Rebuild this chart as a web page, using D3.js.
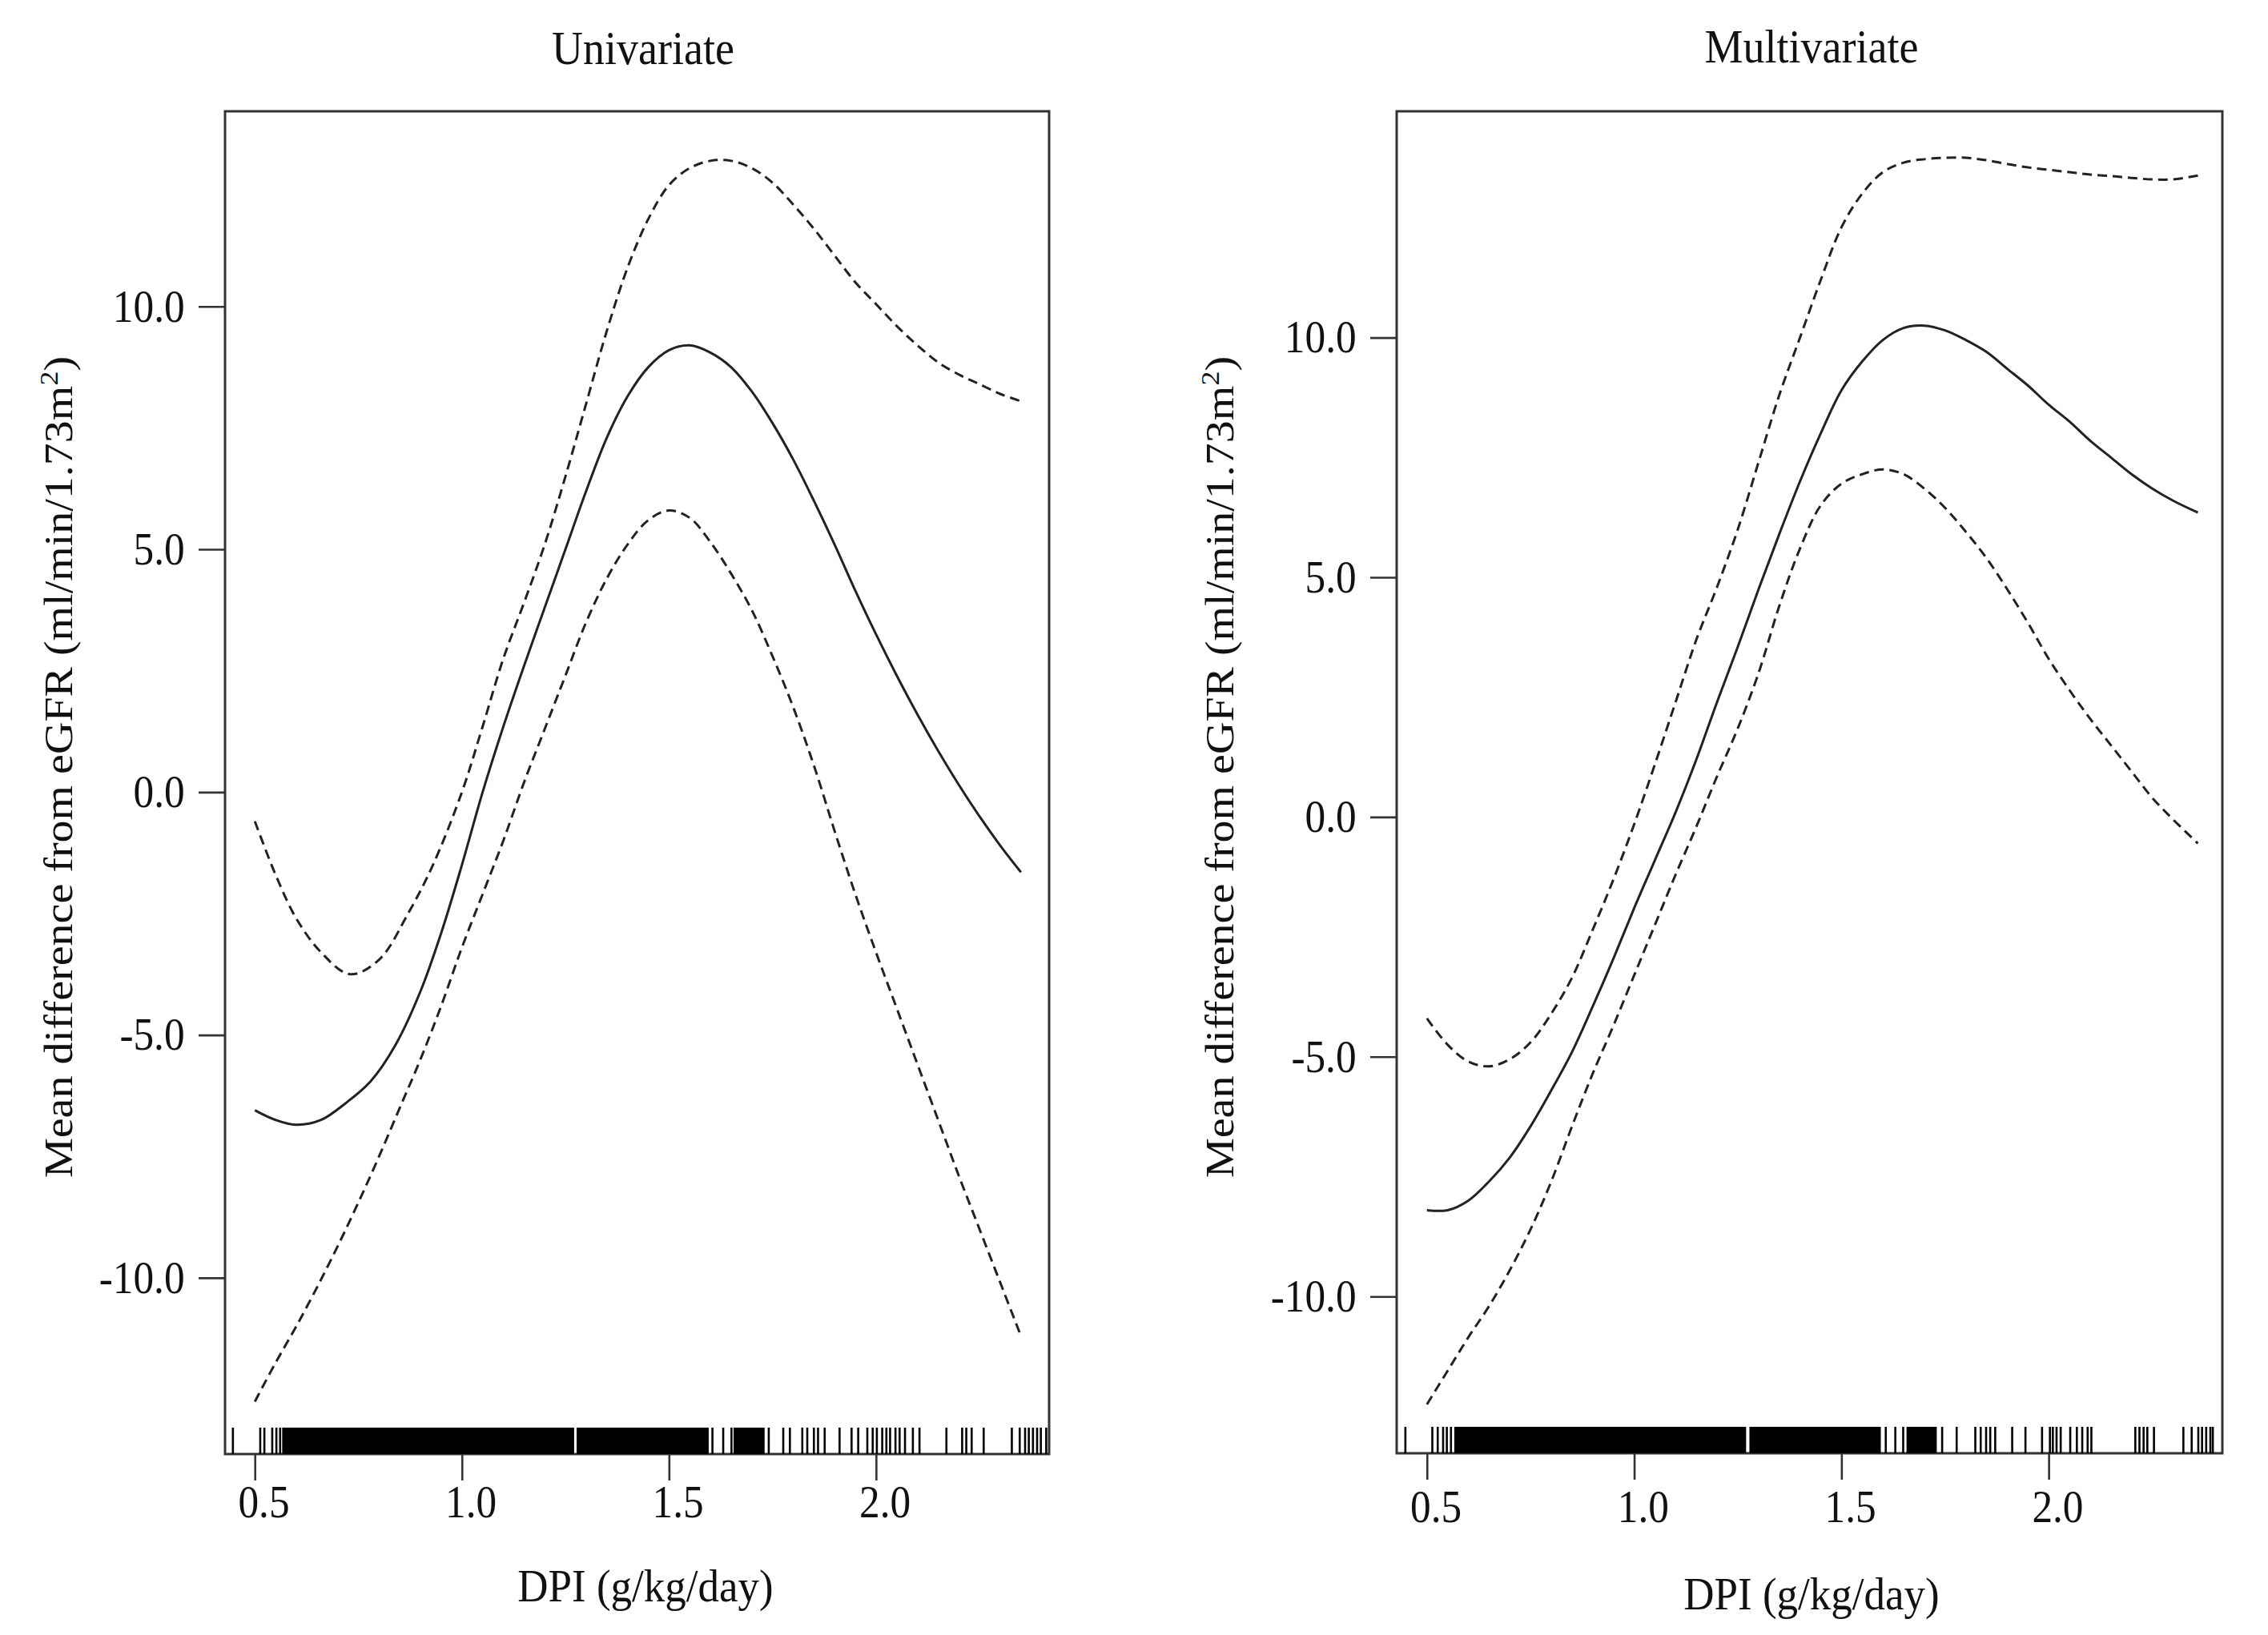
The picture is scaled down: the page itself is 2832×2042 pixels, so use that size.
<!DOCTYPE html>
<html>
<head>
<meta charset="utf-8">
<script src="https://cdn.jsdelivr.net/npm/d3@7"></script>
<style>
  body { margin: 0; background: #fff; }
  text { font-family: "Liberation Serif", "Times New Roman", serif; fill: #111; }
  .frame { fill: none; stroke: #333; stroke-width: 3; }
  .axis path { display: none; }
  .axis line { stroke: #333; stroke-width: 2.6; }
  .fit { fill: none; stroke: #222; stroke-width: 3; }
  .ci { fill: none; stroke: #222; stroke-width: 3; stroke-dasharray: 12 7; }
  .rug { stroke: #000; stroke-width: 2.6; }
  .rug-dense { fill: #000; }
</style>
</head>
<body>
<div id="chart"></div>
<script>
// ---- data ----
const xTicks = [0.5, 1.0, 1.5, 2.0];
const yTicks = [-10, -5, 0, 5, 10];
const panelTitles = ["Univariate", "Multivariate"];
const xLabel = "DPI (g/kg/day)";

// univariate spline fit + 95% CI  [DPI, mean difference]
const uniFit = [[0.50,-6.55],[0.55,-6.75],[0.60,-6.85],[0.66,-6.75],[0.72,-6.4],[0.78,-5.95],[0.84,-5.2],[0.90,-4.1],[0.95,-2.9],[1.00,-1.5],[1.05,0.0],[1.10,1.35],[1.15,2.6],[1.20,3.8],[1.25,5.0],[1.30,6.2],[1.35,7.3],[1.40,8.15],[1.45,8.75],[1.50,9.1],[1.55,9.2],[1.60,9.05],[1.65,8.75],[1.70,8.25],[1.75,7.6],[1.80,6.85],[1.85,6.0],[1.90,5.1],[1.95,4.15],[2.00,3.25],[2.05,2.4],[2.10,1.6],[2.15,0.85],[2.20,0.15],[2.25,-0.5],[2.30,-1.1],[2.35,-1.65]];
const uniUpper = [[0.50,-0.6],[0.55,-1.7],[0.60,-2.6],[0.66,-3.3],[0.73,-3.75],[0.80,-3.45],[0.87,-2.5],[0.93,-1.5],[1.00,0.0],[1.05,1.35],[1.10,2.75],[1.15,3.9],[1.20,5.1],[1.25,6.5],[1.30,8.0],[1.35,9.5],[1.40,10.8],[1.45,11.8],[1.50,12.5],[1.55,12.85],[1.60,13.0],[1.65,13.0],[1.70,12.85],[1.75,12.55],[1.80,12.1],[1.85,11.6],[1.90,11.05],[1.95,10.5],[2.00,10.05],[2.05,9.6],[2.10,9.2],[2.15,8.85],[2.20,8.6],[2.25,8.4],[2.30,8.2],[2.35,8.05]];
const uniLower = [[0.50,-12.55],[0.55,-11.75],[0.60,-11.0],[0.65,-10.2],[0.70,-9.35],[0.75,-8.45],[0.80,-7.5],[0.85,-6.5],[0.90,-5.5],[0.95,-4.4],[1.00,-3.2],[1.05,-2.1],[1.10,-1.0],[1.15,0.2],[1.20,1.3],[1.25,2.4],[1.30,3.5],[1.35,4.4],[1.40,5.1],[1.45,5.6],[1.50,5.8],[1.55,5.65],[1.60,5.15],[1.65,4.5],[1.70,3.75],[1.75,2.8],[1.80,1.75],[1.85,0.55],[1.90,-0.8],[1.95,-2.1],[2.00,-3.3],[2.05,-4.45],[2.10,-5.6],[2.15,-6.75],[2.20,-7.9],[2.25,-9.0],[2.30,-10.1],[2.35,-11.2]];

// multivariate spline fit + 95% CI
const multiFit = [[0.50,-8.2],[0.55,-8.2],[0.60,-8.0],[0.65,-7.6],[0.70,-7.1],[0.75,-6.45],[0.80,-5.7],[0.85,-4.9],[0.90,-3.95],[0.95,-2.95],[1.00,-1.9],[1.05,-0.9],[1.10,0.1],[1.15,1.2],[1.20,2.4],[1.25,3.55],[1.30,4.75],[1.35,5.9],[1.40,7.0],[1.45,8.0],[1.50,8.9],[1.55,9.5],[1.60,9.95],[1.65,10.2],[1.70,10.25],[1.75,10.15],[1.80,9.95],[1.85,9.7],[1.90,9.35],[1.95,9.0],[2.00,8.6],[2.05,8.25],[2.10,7.85],[2.15,7.5],[2.20,7.15],[2.25,6.85],[2.30,6.6],[2.36,6.35]];
const multiUpper = [[0.50,-4.2],[0.55,-4.75],[0.60,-5.1],[0.65,-5.2],[0.70,-5.05],[0.75,-4.7],[0.80,-4.1],[0.85,-3.35],[0.90,-2.35],[0.95,-1.3],[1.00,-0.15],[1.05,1.1],[1.10,2.4],[1.15,3.7],[1.20,4.8],[1.25,6.0],[1.30,7.4],[1.35,8.8],[1.40,10.0],[1.45,11.2],[1.50,12.3],[1.55,13.0],[1.60,13.45],[1.65,13.65],[1.70,13.72],[1.75,13.75],[1.80,13.75],[1.85,13.7],[1.90,13.62],[1.95,13.55],[2.00,13.5],[2.05,13.45],[2.10,13.4],[2.15,13.37],[2.20,13.33],[2.25,13.3],[2.30,13.3],[2.36,13.38]];
const multiLower = [[0.50,-12.25],[0.55,-11.55],[0.60,-10.85],[0.65,-10.2],[0.70,-9.45],[0.75,-8.6],[0.80,-7.6],[0.85,-6.45],[0.90,-5.35],[0.95,-4.35],[1.00,-3.3],[1.05,-2.25],[1.10,-1.2],[1.15,-0.2],[1.20,0.85],[1.25,1.85],[1.30,3.0],[1.35,4.4],[1.40,5.6],[1.45,6.5],[1.50,6.95],[1.55,7.15],[1.60,7.25],[1.65,7.15],[1.70,6.85],[1.75,6.45],[1.80,5.95],[1.85,5.4],[1.90,4.75],[1.95,4.05],[2.00,3.3],[2.05,2.65],[2.10,2.05],[2.15,1.5],[2.20,0.95],[2.25,0.4],[2.30,-0.05],[2.36,-0.55]];

// rug: single observations, plus stretches where the ticks merge into a solid bar
const uniRug = [0.447,0.513,0.523,0.542,0.552,0.561,1.605,1.631,1.651,1.741,1.776,1.792,1.822,1.834,1.85,1.86,1.876,1.912,1.941,1.957,1.979,1.992,2.002,2.015,2.025,2.034,2.047,2.057,2.07,2.089,2.105,2.17,2.208,2.218,2.231,2.26,2.328,2.347,2.36,2.369,2.379,2.389,2.398,2.411];
const uniRugDense = [[0.566,1.271],[1.277,1.596],[1.656,1.731]];
const multiRug = [0.448,0.513,0.526,0.539,0.548,0.558,1.607,1.63,1.649,1.743,1.778,1.823,1.836,1.849,1.859,1.871,1.912,1.944,1.984,2.003,2.01,2.019,2.029,2.052,2.068,2.081,2.094,2.103,2.209,2.219,2.229,2.238,2.254,2.325,2.345,2.361,2.37,2.38,2.39,2.396];
const multiRugDense = [[0.566,1.27],[1.278,1.595],[1.657,1.73]];

class SmoothPanel {
  constructor(props) {
    this.svg = props.svg;
    this.title = props.title;
    this.fit = props.fit;
    this.upper = props.upper;
    this.lower = props.lower;
    this.rug = props.rug;
    this.rugDense = props.rugDense;
    this.box = props.box;          // frame in page pixels
    this.xDomain = props.xDomain;
    this.yDomain = props.yDomain;
    this.pos = props.pos;          // text placement
    this.render();
  }

  render() {
    const b = this.box;
    const g = this.svg.append("g");
    const x = d3.scaleLinear().domain(this.xDomain).range([b.left, b.right]);
    const y = d3.scaleLinear().domain(this.yDomain).range([b.bottom, b.top]);
    const squeeze = 0.9; // the source figure is a bit narrow horizontally

    // title
    g.append("text")
      .attr("transform", `translate(${this.pos.titleX},${this.pos.titleY}) scale(${squeeze},1)`)
      .attr("text-anchor", "middle")
      .style("font-size", "60px")
      .text(this.title);

    // y axis
    const yAxis = g.append("g")
      .attr("class", "axis")
      .attr("transform", `translate(${b.left},0)`)
      .call(d3.axisLeft(y).tickValues(yTicks).tickSize(33).tickPadding(23)
        .tickFormat((d) => d.toFixed(1)));
    yAxis.selectAll("text")
      .style("font-size", "57px")
      .attr("transform", `scale(${squeeze},1)`);

    // x axis
    const xAxis = g.append("g")
      .attr("class", "axis")
      .attr("transform", `translate(0,${b.bottom})`)
      .call(d3.axisBottom(x).tickValues(xTicks).tickSize(33).tickPadding(this.pos.xTickPad)
        .tickFormat((d) => d.toFixed(1)));
    xAxis.selectAll("text")
      .style("font-size", "57px")
      .attr("dx", 12)
      .attr("transform", `scale(${squeeze},1)`);

    // frame
    g.append("rect")
      .attr("class", "frame")
      .attr("x", b.left)
      .attr("y", b.top)
      .attr("width", b.right - b.left)
      .attr("height", b.bottom - b.top);

    // rug
    const rugH = 33;
    g.append("g").selectAll("rect")
      .data(this.rugDense)
      .join("rect")
      .attr("class", "rug-dense")
      .attr("x", (d) => x(d[0]))
      .attr("y", b.bottom - rugH)
      .attr("width", (d) => x(d[1]) - x(d[0]))
      .attr("height", rugH);
    g.append("g").selectAll("line")
      .data(this.rug)
      .join("line")
      .attr("class", "rug")
      .attr("x1", (d) => x(d))
      .attr("x2", (d) => x(d))
      .attr("y1", b.bottom - rugH)
      .attr("y2", b.bottom);

    // curves
    const line = d3.line()
      .x((d) => x(d[0]))
      .y((d) => y(d[1]))
      .curve(d3.curveCatmullRom.alpha(0.5));
    g.append("path").attr("class", "ci").attr("d", line(this.upper));
    g.append("path").attr("class", "ci").attr("d", line(this.lower));
    g.append("path").attr("class", "fit").attr("d", line(this.fit));

    // axis titles
    g.append("text")
      .attr("transform", `translate(${this.pos.xLabX},${this.pos.xLabY}) scale(0.93,1)`)
      .attr("text-anchor", "middle")
      .style("font-size", "57px")
      .text(xLabel);

    const yl = g.append("text")
      .attr("transform", `translate(${this.pos.yLabX},${this.pos.yLabY}) rotate(-90) scale(1,${squeeze})`)
      .attr("text-anchor", "middle")
      .style("font-size", "56px");
    yl.append("tspan").text("Mean difference  from eGFR (ml/min/1.73m");
    yl.append("tspan").attr("dy", -20).style("font-size", "36px").text("2");
    yl.append("tspan").attr("dy", 20).text(")");
  }
}

const svg = d3.select("#chart")
  .append("svg")
  .attr("width", 2832)
  .attr("height", 2042);

svg.append("rect").attr("width", 2832).attr("height", 2042).attr("fill", "#fff");

new SmoothPanel({
  svg: svg,
  title: panelTitles[0],
  fit: uniFit,
  upper: uniUpper,
  lower: uniLower,
  rug: uniRug,
  rugDense: uniRugDense,
  box: { left: 281, right: 1310, top: 139, bottom: 1816 },
  xDomain: [0.428, 2.418],
  yDomain: [-13.63, 14.02],
  pos: { titleX: 803, titleY: 80, xTickPad: 6, xLabX: 806, xLabY: 2000, yLabX: 90, yLabY: 958 },
});

new SmoothPanel({
  svg: svg,
  title: panelTitles[1],
  fit: multiFit,
  upper: multiUpper,
  lower: multiLower,
  rug: multiRug,
  rugDense: multiRugDense,
  box: { left: 1744, right: 2775, top: 139, bottom: 1815 },
  xDomain: [0.427, 2.419],
  yDomain: [-13.27, 14.72],
  pos: { titleX: 2262, titleY: 78, xTickPad: 13, xLabX: 2262, xLabY: 2010, yLabX: 1540, yLabY: 958 },
});
</script>
</body>
</html>
